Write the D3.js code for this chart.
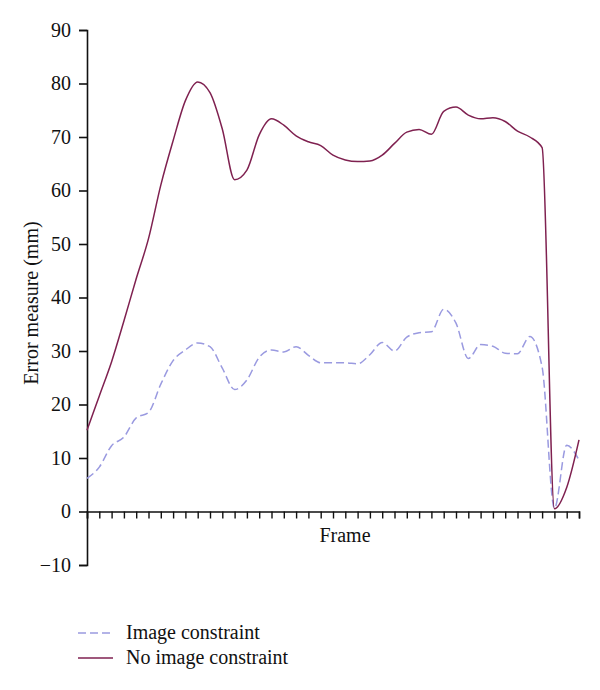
<!DOCTYPE html>
<html>
<head>
<meta charset="utf-8">
<script src="https://cdn.jsdelivr.net/npm/d3@7"></script>
<style>
html, body { margin: 0; padding: 0; background: #fff; }
svg { display: block; }
text { font-family: "Liberation Serif", "DejaVu Serif", serif; fill: #111; }
</style>
</head>
<body>
<svg id="chart" width="600" height="690"></svg>
<script>
// ---- data ----
const frames = d3.range(0, 41);
const imageConstraint = [
  6.2, 8.3, 12.3, 13.9, 17.5, 18.5, 23.8, 28.2, 30.2, 31.5,
  30.8, 26.8, 22.8, 24.6, 28.8, 30.2, 29.8, 30.8, 29.2, 27.8,
  27.8, 27.8, 27.6, 29.3, 31.6, 30.0, 32.6, 33.4, 33.6, 37.8,
  35.2, 28.6, 31.2, 30.9, 29.6, 29.5, 32.7, 27.0, 0.6, 12.4, 9.6
];
const noImageConstraint = [
  15.2, 21.6, 28.0, 35.6, 43.5, 51.0, 61.0, 69.3, 76.8, 80.3,
  78.3, 71.5, 62.0, 63.8, 70.4, 73.4, 72.2, 70.2, 69.1, 68.4,
  66.6, 65.7, 65.4, 65.5, 66.6, 68.8, 70.9, 71.4, 70.5, 74.8,
  75.6, 74.1, 73.4, 73.6, 72.9, 71.1, 70.0, 68.0, 0.5, 4.5, 13.4
];
const yTicks = [-10, 0, 10, 20, 30, 40, 50, 60, 70, 80, 90];
const seriesNames = ["Image constraint", "No image constraint"];
const seriesColors = ["#9a9ae0", "#7f2150"];

// ---- layout ----
const svg = d3.select("#chart");
const x = d3.scaleLinear().domain([0, 40]).range([87, 579]);
const y = d3.scaleLinear().domain([-10, 90]).range([565, 30]);

// y axis
const yAxis = svg.append("g")
  .attr("transform", `translate(${x(0)},0)`)
  .call(d3.axisLeft(y).tickValues(yTicks).tickSize(8).tickPadding(8)
    .tickFormat(d => d < 0 ? "\u2212" + Math.abs(d) : d));
yAxis.select(".domain").attr("stroke", "#111").attr("stroke-width", 1.6);
yAxis.selectAll(".tick line").attr("stroke", "#111").attr("stroke-width", 1.6);
yAxis.selectAll(".tick text").style("font-size", "20px").style("font-family", "'Liberation Serif', serif").attr("fill", "#111");

// x axis at y = 0
const xAxis = svg.append("g")
  .attr("transform", `translate(0,${y(0)})`)
  .call(d3.axisBottom(x).tickValues(frames).tickSize(7).tickFormat(""));
xAxis.select(".domain").attr("stroke", "#111").attr("stroke-width", 1.6);
xAxis.selectAll(".tick line").attr("stroke", "#111").attr("stroke-width", 1.4);

// axis titles
svg.append("text")
  .attr("x", 345).attr("y", 542)
  .attr("text-anchor", "middle")
  .style("font-size", "20px")
  .text("Frame");
svg.append("text")
  .attr("transform", `translate(38,${303}) rotate(-90)`)
  .attr("text-anchor", "middle")
  .style("font-size", "20px")
  .text("Error measure (mm)");

// lines
const line = d3.line()
  .x((d, i) => x(frames[i]))
  .y(d => y(d))
  .curve(d3.curveMonotoneX);

svg.append("path")
  .datum(imageConstraint)
  .attr("fill", "none")
  .attr("stroke", seriesColors[0])
  .attr("stroke-width", 1.5)
  .attr("stroke-dasharray", "8,4")
  .attr("d", line);

svg.append("path")
  .datum(noImageConstraint)
  .attr("fill", "none")
  .attr("stroke", seriesColors[1])
  .attr("stroke-width", 1.5)
  .attr("d", line);

// legend
const legend = svg.append("g");
seriesNames.forEach((name, i) => {
  const ly = 633 + i * 25;
  legend.append("line")
    .attr("x1", 78).attr("x2", 113)
    .attr("y1", ly).attr("y2", ly)
    .attr("stroke", seriesColors[i])
    .attr("stroke-width", 1.5)
    .attr("stroke-dasharray", i === 0 ? "8,4" : null);
  legend.append("text")
    .attr("x", 126).attr("y", ly + 6)
    .style("font-size", "20px")
    .text(name);
});
</script>
</body>
</html>
